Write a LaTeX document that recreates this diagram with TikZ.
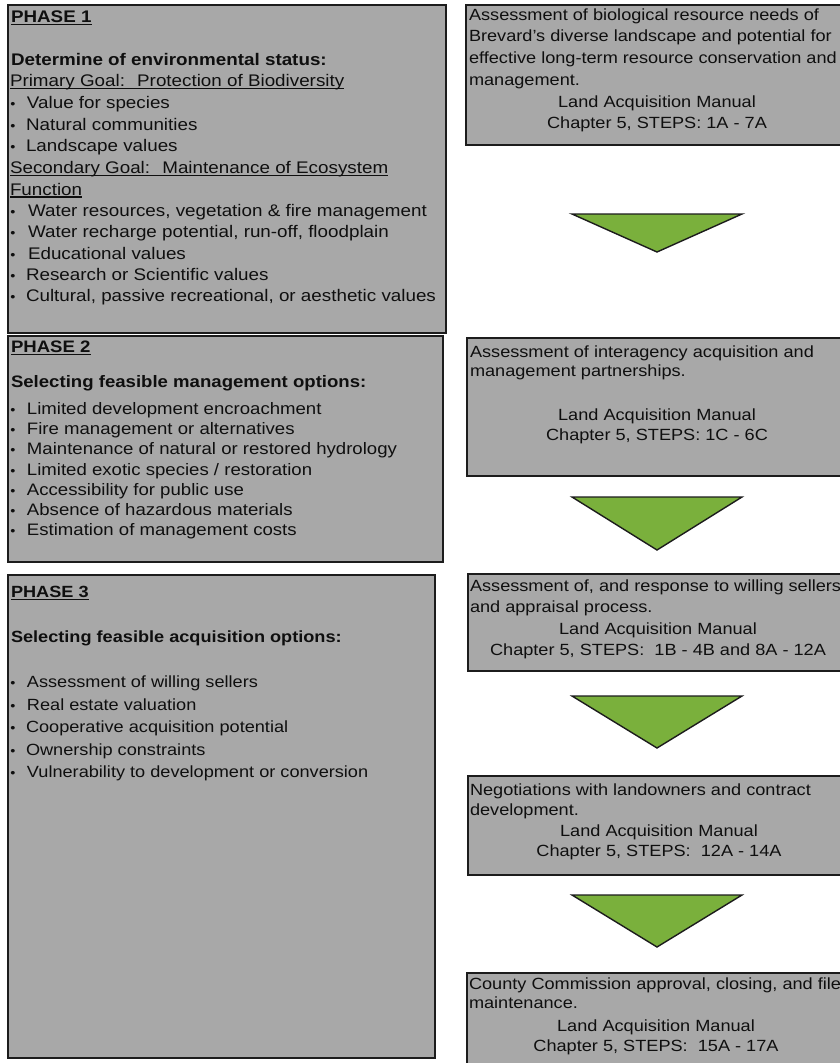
\documentclass[tikz,border=0pt]{standalone}
\usepackage{fontspec}
\setmainfont{Liberation Sans}[FakeStretch=1.12]
\newcommand\fPa{\fontsize{16.8}{20}\selectfont}
\newcommand\fPb{\fontsize{16.6}{20}\selectfont}
\newcommand\fPc{\fontsize{16.2}{20}\selectfont}
\newcommand\fR{\fontsize{16.2}{20}\selectfont}
\newcommand\smbul{{\fontsize{13}{13}\selectfont\textbullet}}
\definecolor{boxgray}{RGB}{168,168,168}
\definecolor{boxline}{RGB}{28,28,28}
\definecolor{arrgreen}{RGB}{122,176,60}
\definecolor{txtcol}{RGB}{15,15,15}
\begin{document}
\begin{tikzpicture}[x=1pt,y=-1pt,
  lbox/.style={draw=boxline,line width=2.4pt,fill=boxgray,anchor=north west,inner sep=0,outer sep=0},
  rbox/.style={draw=boxline,line width=2pt,fill=boxgray,anchor=north west,inner sep=0,outer sep=0},
  txt/.style={inner sep=0,outer sep=0,anchor=base west,text=txtcol},
  ctxt/.style={inner sep=0,outer sep=0,anchor=base,text=txtcol},
  bul/.style={inner sep=0,outer sep=0,anchor=base,text=txtcol},
  uline/.style={draw=txtcol,line width=1.1pt},
  tri/.style={draw=boxline,line width=1.4pt,fill=arrgreen,line join=miter}]
\useasboundingbox (0,0) rectangle (840,1063);
\clip (0,0) rectangle (840,1063);

% ---------- left boxes ----------
\node[lbox,minimum width=438pt,minimum height=328pt] (p1) at (8,5) {};
\node[lbox,minimum width=435pt,minimum height=226pt] (p2) at (8,336) {};
\node[lbox,minimum width=427pt,minimum height=483pt] (p3) at (8,575) {};

% ---------- right boxes ----------
\node[rbox,minimum width=375pt,minimum height=140pt] (ra) at (466,5) {};
\node[rbox,minimum width=374pt,minimum height=138pt] (rb) at (467,338) {};
\node[rbox,minimum width=373pt,minimum height=97pt] (rc) at (468,574) {};
\node[rbox,minimum width=373pt,minimum height=99pt] (rd) at (468,776) {};
\node[rbox,minimum width=374pt,minimum height=100pt] (re) at (467,973) {};

% ---------- triangles ----------
\coordinate (t1l) at (572,214); \coordinate (t1r) at (742,214); \coordinate (t1a) at (657,252);
\coordinate (t2l) at (572,497); \coordinate (t2r) at (742,497); \coordinate (t2a) at (657,550);
\coordinate (t3l) at (572,696); \coordinate (t3r) at (742,696); \coordinate (t3a) at (657,748);
\coordinate (t4l) at (572,895); \coordinate (t4r) at (742,895); \coordinate (t4a) at (657,947);
\draw[tri] (t1l) -- (t1r) -- (t1a) -- cycle;
\draw[tri] (t2l) -- (t2r) -- (t2a) -- cycle;
\draw[tri] (t3l) -- (t3r) -- (t3a) -- cycle;
\draw[tri] (t4l) -- (t4r) -- (t4a) -- cycle;

% ---------- Phase 1 text ----------
\begin{scope}[every node/.append style={font=\fPa}]
\node[txt,font=\fPa\bfseries] (h1) at (11,22.7) {PHASE 1};
\draw[uline] ([yshift=-2pt]h1.base west) -- ([yshift=-2pt]h1.base east);
\node[txt,font=\fPa\bfseries] (d1) at (11,65) {Determine of environmental status:};
\node[txt] (g1) at (10,86.7) {Primary Goal:~ Protection of Biodiversity};
\draw[uline] ([yshift=-2pt]g1.base west) -- ([yshift=-2pt]g1.base east);
\node[bul] (b11) at (13,108.3) {\smbul}; \node[txt] (l11) at (27,108.3) {Value for species};
\node[bul] (b12) at (13,130) {\smbul}; \node[txt] (l12) at (26,130) {Natural communities};
\node[bul] (b13) at (13,151.7) {\smbul}; \node[txt] (l13) at (26,151.7) {Landscape values};
\node[txt] (g2) at (10,173.3) {Secondary Goal:~ Maintenance of Ecosystem};
\draw[uline] ([yshift=-2pt]g2.base west) -- ([yshift=-2pt]g2.base east);
\node[txt] (g3) at (10,195) {Function};
\draw[uline] ([yshift=-2pt]g3.base west) -- ([yshift=-2pt]g3.base east);
\node[bul] (b14) at (13,216.7) {\smbul}; \node[txt] (l14) at (28,216.7) {Water resources, vegetation \& fire management};
\node[bul] (b15) at (13,237.7) {\smbul}; \node[txt] (l15) at (28,237.7) {Water recharge potential, run-off, floodplain};
\node[bul] (b16) at (13,259.3) {\smbul}; \node[txt] (l16) at (28,259.3) {Educational values};
\node[bul] (b17) at (13,280.7) {\smbul}; \node[txt] (l17) at (26,280.7) {Research or Scientific values};
\node[bul] (b18) at (13,301.7) {\smbul}; \node[txt] (l18) at (26,301.7) {Cultural, passive recreational, or aesthetic values};
\end{scope}

% ---------- Phase 2 text ----------
\begin{scope}[every node/.append style={font=\fPb}]
\node[txt,font=\fPb\bfseries] (h2) at (11,352.7) {PHASE 2};
\draw[uline] ([yshift=-2pt]h2.base west) -- ([yshift=-2pt]h2.base east);
\node[txt,font=\fPb\bfseries] (d2) at (11,387) {Selecting feasible management options:};
\node[bul] (b21) at (13,414) {\smbul}; \node[txt] (l21) at (27,414) {Limited development encroachment};
\node[bul] (b22) at (13,434.3) {\smbul}; \node[txt] (l22) at (27,434.3) {Fire management or alternatives};
\node[bul] (b23) at (13,454.3) {\smbul}; \node[txt] (l23) at (27,454.3) {Maintenance of natural or restored hydrology};
\node[bul] (b24) at (13,475) {\smbul}; \node[txt] (l24) at (27,475) {Limited exotic species / restoration};
\node[bul] (b25) at (13,495) {\smbul}; \node[txt] (l25) at (27,495) {Accessibility for public use};
\node[bul] (b26) at (13,515) {\smbul}; \node[txt] (l26) at (27,515) {Absence of hazardous materials};
\node[bul] (b27) at (13,535) {\smbul}; \node[txt] (l27) at (27,535) {Estimation of management costs};
\end{scope}

% ---------- Phase 3 text ----------
\begin{scope}[every node/.append style={font=\fPc}]
\node[txt,font=\fPc\bfseries] (h3) at (11,597.3) {PHASE 3};
\draw[uline] ([yshift=-2pt]h3.base west) -- ([yshift=-2pt]h3.base east);
\node[txt,font=\fPc\bfseries] (d3) at (11,642.7) {Selecting feasible acquisition options:};
\node[bul] (b31) at (13,687.7) {\smbul}; \node[txt] (l31) at (27,687.7) {Assessment of willing sellers};
\node[bul] (b32) at (13,710) {\smbul}; \node[txt] (l32) at (27,710) {Real estate valuation};
\node[bul] (b33) at (13,732.7) {\smbul}; \node[txt] (l33) at (26,732.7) {Cooperative acquisition potential};
\node[bul] (b34) at (13,755) {\smbul}; \node[txt] (l34) at (26,755) {Ownership constraints};
\node[bul] (b35) at (13,777.3) {\smbul}; \node[txt] (l35) at (27,777.3) {Vulnerability to development or conversion};
\end{scope}

% ---------- right box texts ----------
\begin{scope}[every node/.append style={font=\fR}]
\node[txt] (a1) at (469,20) {Assessment of biological resource needs of};
\node[txt] (a2) at (469,41.7) {Brevard's diverse landscape and potential for};
\node[txt] (a3) at (469,63.3) {effective long-term resource conservation and};
\node[txt] (a4) at (469,85) {management.};
\node[ctxt] (a5) at (657,107.3) {Land Acquisition Manual};
\node[ctxt] (a6) at (657,128.3) {Chapter 5, STEPS: 1A - 7A};

\node[txt] (bb1) at (470,357.3) {Assessment of interagency acquisition and};
\node[txt] (bb2) at (470,376.7) {management partnerships.};
\node[ctxt] (bb3) at (657,420.7) {Land Acquisition Manual};
\node[ctxt] (bb4) at (657,440.7) {Chapter 5, STEPS: 1C - 6C};

\node[txt] (c1) at (470,591.7) {Assessment of, and response to willing sellers};
\node[txt] (c2) at (470,612.3) {and appraisal process.};
\node[ctxt] (c3) at (658,634) {Land Acquisition Manual};
\node[ctxt] (c4) at (658,655) {Chapter 5, STEPS:~ 1B - 4B and 8A - 12A};

\node[txt] (e1) at (470,795) {Negotiations with landowners and contract};
\node[txt] (e2) at (470,815) {development.};
\node[ctxt] (e3) at (659,836) {Land Acquisition Manual};
\node[ctxt] (e4) at (659,856.7) {Chapter 5, STEPS:~ 12A - 14A};

\node[txt] (f1) at (469,989.3) {County Commission approval, closing, and file};
\node[txt] (f2) at (469,1008.3) {maintenance.};
\node[ctxt] (f3) at (656,1031.7) {Land Acquisition Manual};
\node[ctxt] (f4) at (656,1051.7) {Chapter 5, STEPS:~ 15A - 17A};
\end{scope}
\end{tikzpicture}
\end{document}
